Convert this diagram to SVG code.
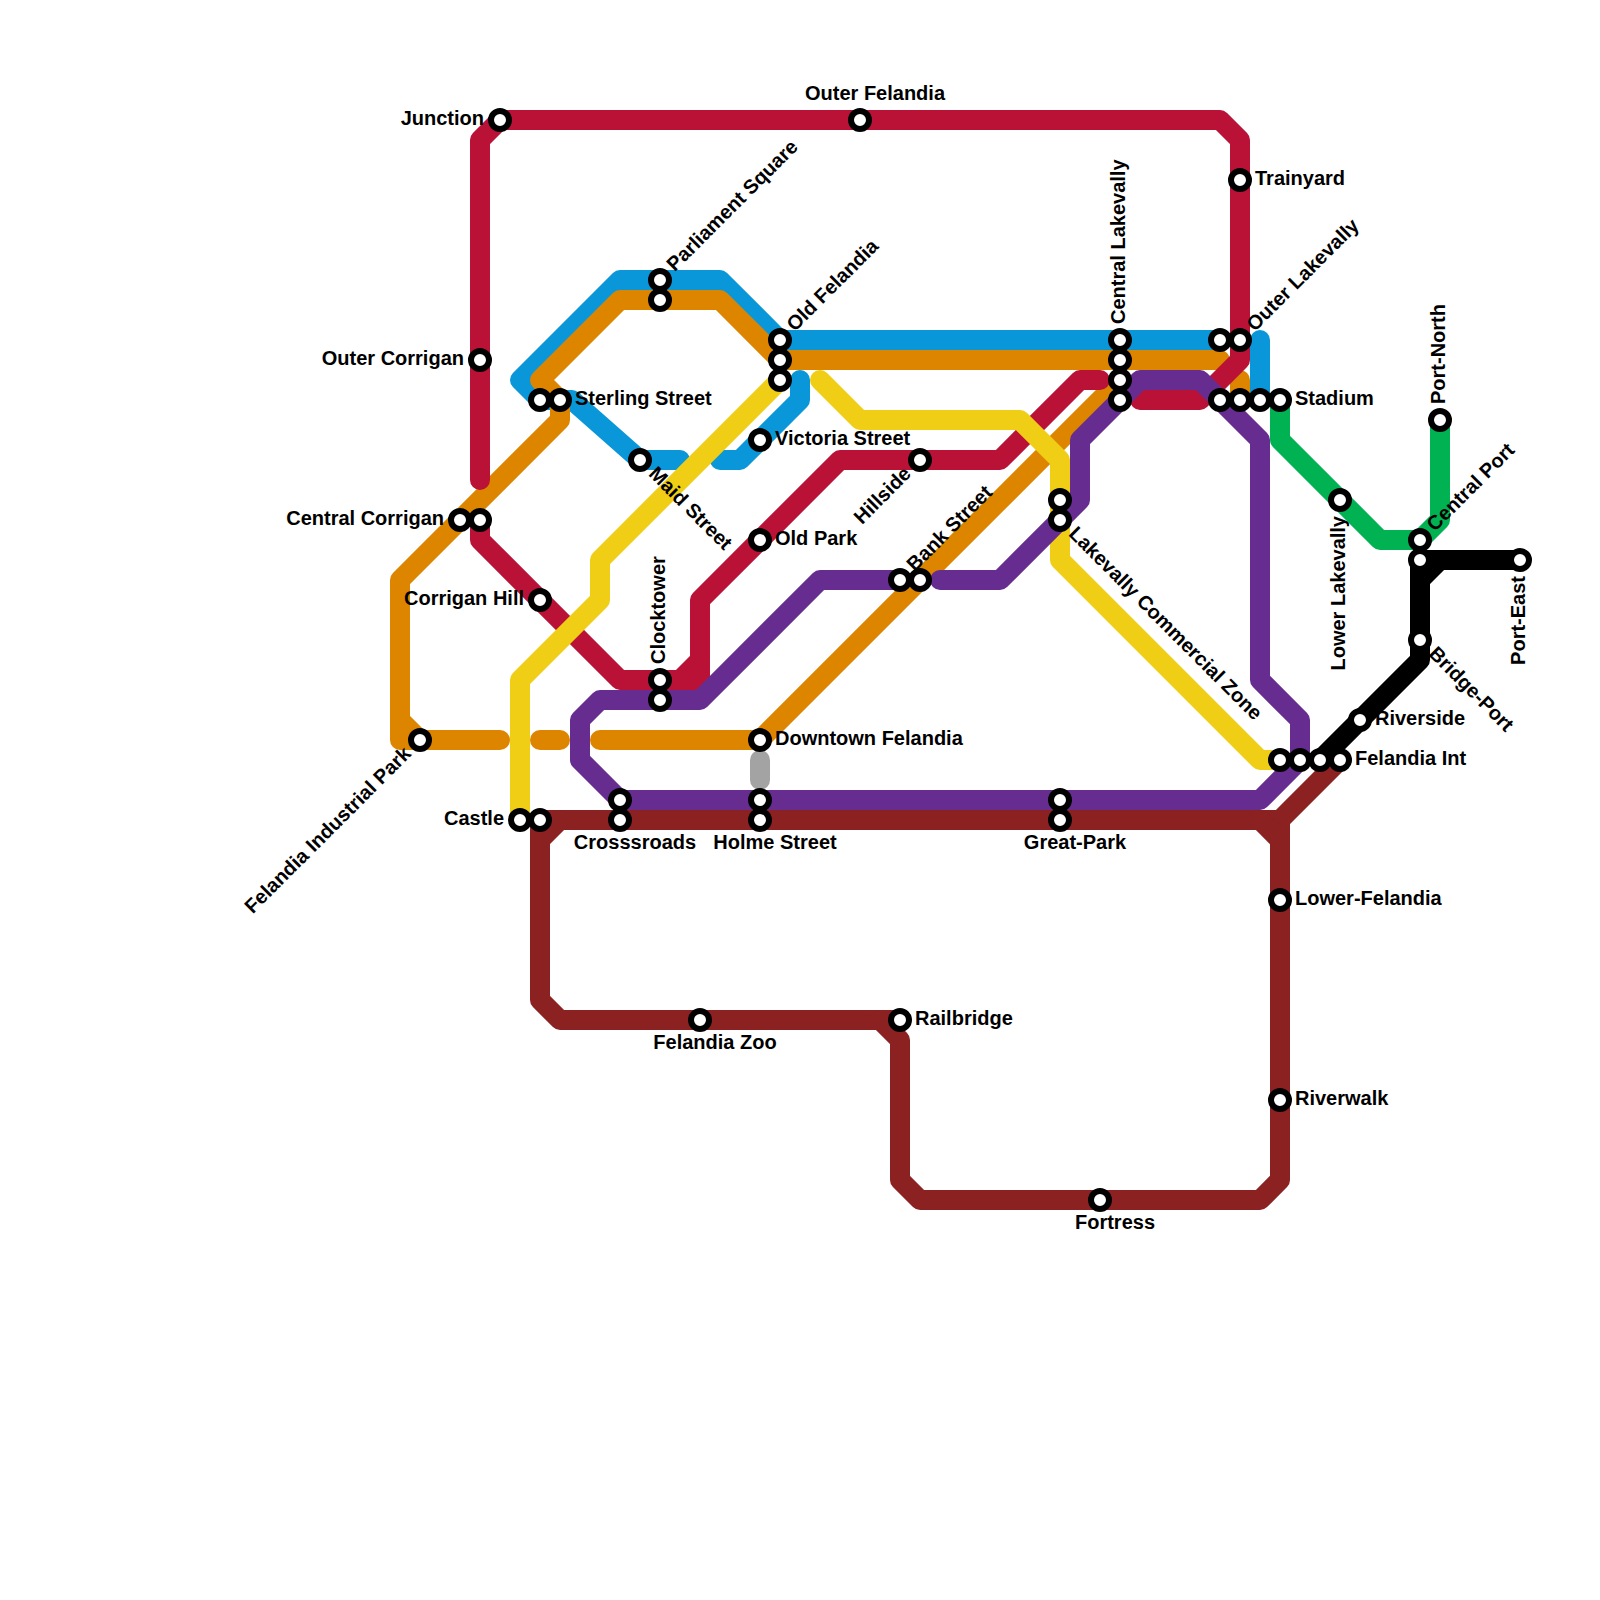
<svg xmlns="http://www.w3.org/2000/svg" width="1600" height="1600" viewBox="0 0 1600 1600">
<style>
.l{fill:none;stroke-width:20;stroke-linecap:round;stroke-linejoin:round}
.blue{stroke:#0a97d9}.orange{stroke:#de8500}.red{stroke:#ba1237}.yellow{stroke:#f0ce15}.purple{stroke:#662c90}.maroon{stroke:#8b2121}.green{stroke:#00b251}.black{stroke:#000}.grey{stroke:#a3a3a3}
.s{fill:#fff;stroke:#000;stroke-width:6}
text{font-family:"Liberation Sans",Arial,sans-serif;font-weight:700;font-size:20px;fill:#000}
.e{text-anchor:end}.m{text-anchor:middle}
</style>
<rect width="1600" height="1600" fill="#fff"/>
<g id="connectors">
<path class="l blue" d="M680 460H640L572 400H540L520 380L620 280H720L780 340H1220"/>
<path class="l blue" d="M1260 340V400"/>
<path class="l blue" d="M800 380V400L740 460H720"/>
<path class="l orange" d="M500 740H400V580L560 420V400L540 380L620 300H720L780 360H1220"/>
<path class="l orange" d="M400 720L420 740"/>
<path class="l orange" d="M540 740H560"/>
<path class="l orange" d="M600 740H760L1120 380"/>
<path class="l orange" d="M1240 380V400"/>
<path class="l grey" d="M760 760V780"/>
<path class="l red" d="M480 480V140L500 120H1220L1240 140V360L1200 400H1140"/>
<path class="l red" d="M480 520V540L620 680H700V600L840 460H1000L1080 380H1100"/>
<path class="l red" d="M680 680L700 660"/>
<path class="l yellow" d="M520 820V680L600 600V560L780 380"/>
<path class="l yellow" d="M820 380L860 420H1020L1060 460V560L1260 760H1280"/>
<path class="l purple" d="M900 580H820L700 700H600L580 720V760L620 800H1260L1300 760V720L1260 680V440L1200 380H1140L1080 440V500L1000 580H940"/>
<path class="l maroon" d="M1340 760L1280 820H540V1000L560 1020H880L900 1040V1180L920 1200H1260L1280 1180V820"/>
<path class="l maroon" d="M540 840L560 820"/>
<path class="l maroon" d="M1260 820L1280 840"/>
<path class="l maroon" d="M880 1020H900"/>
<path class="l green" d="M1280 400V440L1380 540H1420L1440 520V420"/>
<path class="l black" d="M1520 560H1420V660L1320 760"/>
<path class="l black" d="M1420 580L1440 560"/>
</g>
<g id="stations">
<g id="n-junction"><circle class="s" cx="500" cy="120" r="9"/><text class="e" x="484" y="125">Junction</text></g>
<g id="n-outer-felandia"><circle class="s" cx="860" cy="120" r="9"/><text class="m" x="875" y="100">Outer Felandia</text></g>
<g id="n-trainyard"><circle class="s" cx="1240" cy="180" r="9"/><text x="1255" y="185">Trainyard</text></g>
<g id="n-outer-lakevally"><circle class="s" cx="1220" cy="340" r="9"/><circle class="s" cx="1240" cy="340" r="9"/><text transform="translate(1240 340) rotate(-45)" x="16" y="5">Outer Lakevally</text></g>
<g id="n-central-lakevally"><circle class="s" cx="1120" cy="340" r="9"/><circle class="s" cx="1120" cy="360" r="9"/><circle class="s" cx="1120" cy="380" r="9"/><circle class="s" cx="1120" cy="400" r="9"/><text transform="translate(1120 340) rotate(-90)" x="16" y="5">Central Lakevally</text></g>
<g id="n-old-felandia"><circle class="s" cx="780" cy="340" r="9"/><circle class="s" cx="780" cy="360" r="9"/><circle class="s" cx="780" cy="380" r="9"/><text transform="translate(780 340) rotate(-45)" x="16" y="5">Old Felandia</text></g>
<g id="n-parliament-square"><circle class="s" cx="660" cy="280" r="9"/><circle class="s" cx="660" cy="300" r="9"/><text transform="translate(660 280) rotate(-45)" x="16" y="5">Parliament Square</text></g>
<g id="n-sterling-street"><circle class="s" cx="540" cy="400" r="9"/><circle class="s" cx="560" cy="400" r="9"/><text x="575" y="405">Sterling Street</text></g>
<g id="n-outer-corrigan"><circle class="s" cx="480" cy="360" r="9"/><text class="e" x="464" y="365">Outer Corrigan</text></g>
<g id="n-central-corrigan"><circle class="s" cx="460" cy="520" r="9"/><circle class="s" cx="480" cy="520" r="9"/><text class="e" x="444" y="525">Central Corrigan</text></g>
<g id="n-corrigan-hill"><circle class="s" cx="540" cy="600" r="9"/><text class="e" x="524" y="605">Corrigan Hill</text></g>
<g id="n-maid-street"><circle class="s" cx="640" cy="460" r="9"/><text transform="translate(640 460) rotate(45)" x="16" y="5">Maid Street</text></g>
<g id="n-victoria-street"><circle class="s" cx="760" cy="440" r="9"/><text x="775" y="445">Victoria Street</text></g>
<g id="n-old-park"><circle class="s" cx="760" cy="540" r="9"/><text x="775" y="545">Old Park</text></g>
<g id="n-hillside"><circle class="s" cx="920" cy="460" r="9"/><text class="e" transform="translate(920 460) rotate(-45)" x="-16" y="5">Hillside</text></g>
<g id="n-bank-street"><circle class="s" cx="900" cy="580" r="9"/><circle class="s" cx="920" cy="580" r="9"/><text transform="translate(900 580) rotate(-45)" x="16" y="5">Bank Street</text></g>
<g id="n-lakevally-commercial-zone"><circle class="s" cx="1060" cy="500" r="9"/><circle class="s" cx="1060" cy="520" r="9"/><text transform="translate(1060 520) rotate(45)" x="16" y="5">Lakevally Commercial Zone</text></g>
<g id="n-clocktower"><circle class="s" cx="660" cy="680" r="9"/><circle class="s" cx="660" cy="700" r="9"/><text transform="translate(660 680) rotate(-90)" x="16" y="5">Clocktower</text></g>
<g id="n-felandia-industrial-park"><circle class="s" cx="420" cy="740" r="9"/><text class="e" transform="translate(420 740) rotate(-45)" x="-16" y="5">Felandia Industrial Park</text></g>
<g id="n-downtown-felandia"><circle class="s" cx="760" cy="740" r="9"/><text x="775" y="745">Downtown Felandia</text></g>
<g id="n-crosssroads"><circle class="s" cx="620" cy="800" r="9"/><circle class="s" cx="620" cy="820" r="9"/><text class="m" x="635" y="849">Crosssroads</text></g>
<g id="n-holme-street"><circle class="s" cx="760" cy="800" r="9"/><circle class="s" cx="760" cy="820" r="9"/><text class="m" x="775" y="849">Holme Street</text></g>
<g id="n-great-park"><circle class="s" cx="1060" cy="800" r="9"/><circle class="s" cx="1060" cy="820" r="9"/><text class="m" x="1075" y="849">Great-Park</text></g>
<g id="n-castle"><circle class="s" cx="520" cy="820" r="9"/><circle class="s" cx="540" cy="820" r="9"/><text class="e" x="504" y="825">Castle</text></g>
<g id="n-felandia-zoo"><circle class="s" cx="700" cy="1020" r="9"/><text class="m" x="715" y="1049">Felandia Zoo</text></g>
<g id="n-railbridge"><circle class="s" cx="900" cy="1020" r="9"/><text x="915" y="1025">Railbridge</text></g>
<g id="n-fortress"><circle class="s" cx="1100" cy="1200" r="9"/><text class="m" x="1115" y="1229">Fortress</text></g>
<g id="n-lower-felandia"><circle class="s" cx="1280" cy="900" r="9"/><text x="1295" y="905">Lower-Felandia</text></g>
<g id="n-riverwalk"><circle class="s" cx="1280" cy="1100" r="9"/><text x="1295" y="1105">Riverwalk</text></g>
<g id="n-stadium"><circle class="s" cx="1220" cy="400" r="9"/><circle class="s" cx="1240" cy="400" r="9"/><circle class="s" cx="1260" cy="400" r="9"/><circle class="s" cx="1280" cy="400" r="9"/><text x="1295" y="405">Stadium</text></g>
<g id="n-felandia-int"><circle class="s" cx="1280" cy="760" r="9"/><circle class="s" cx="1300" cy="760" r="9"/><circle class="s" cx="1320" cy="760" r="9"/><circle class="s" cx="1340" cy="760" r="9"/><text x="1355" y="765">Felandia Int</text></g>
<g id="n-riverside"><circle class="s" cx="1360" cy="720" r="9"/><text x="1375" y="725">Riverside</text></g>
<g id="n-bridge-port"><circle class="s" cx="1420" cy="640" r="9"/><text transform="translate(1420 640) rotate(45)" x="16" y="5">Bridge-Port</text></g>
<g id="n-central-port"><circle class="s" cx="1420" cy="540" r="9"/><circle class="s" cx="1420" cy="560" r="9"/><text transform="translate(1420 540) rotate(-45)" x="16" y="5">Central Port</text></g>
<g id="n-port-north"><circle class="s" cx="1440" cy="420" r="9"/><text transform="translate(1440 420) rotate(-90)" x="16" y="5">Port-North</text></g>
<g id="n-lower-lakevally"><circle class="s" cx="1340" cy="500" r="9"/><text class="e" transform="translate(1340 500) rotate(-90)" x="-16" y="5">Lower Lakevally</text></g>
<g id="n-port-east"><circle class="s" cx="1520" cy="560" r="9"/><text class="e" transform="translate(1520 560) rotate(-90)" x="-16" y="5">Port-East</text></g>
</g>
</svg>
